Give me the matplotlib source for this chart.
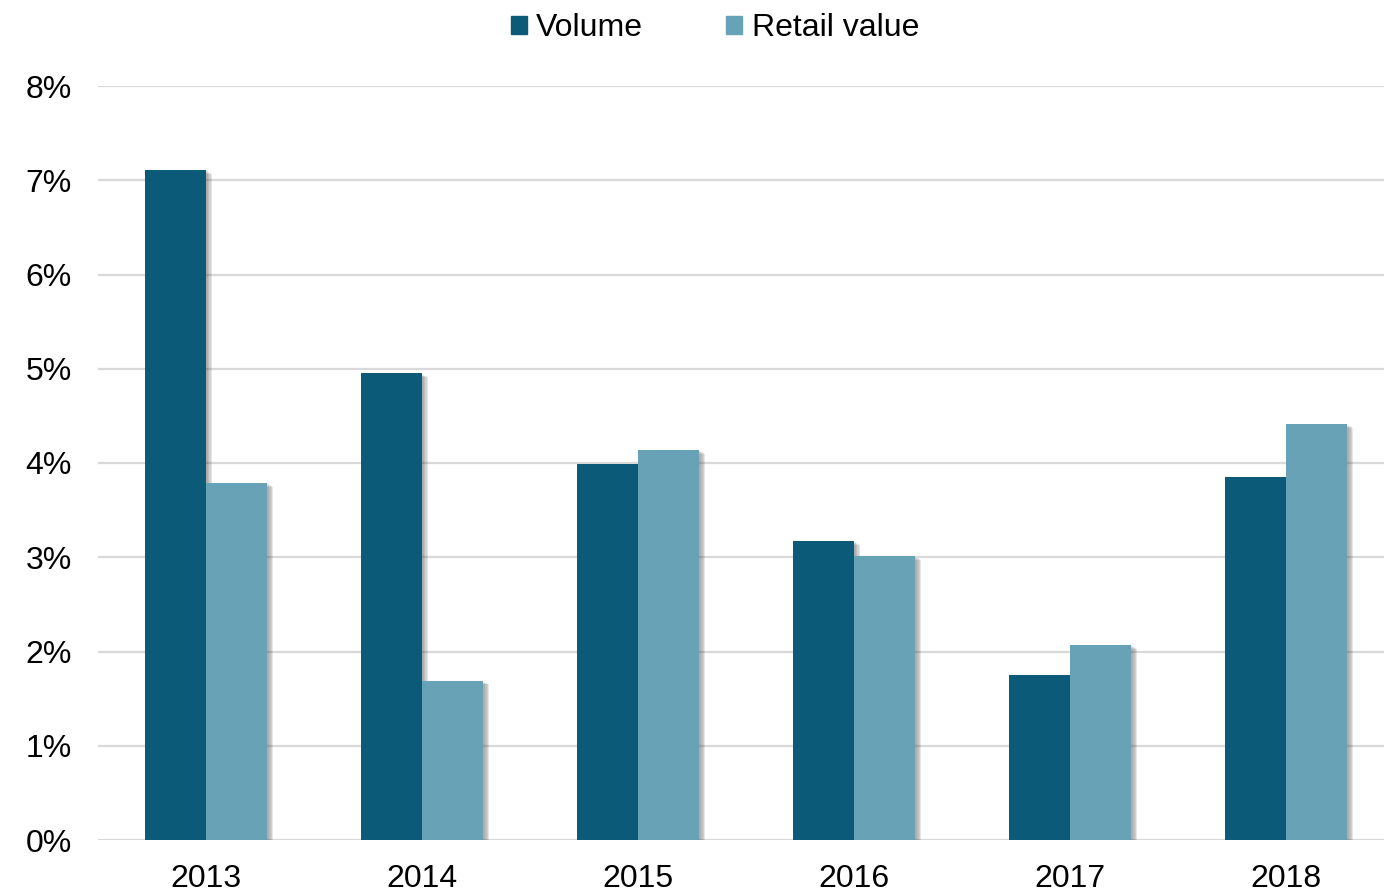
import numpy as np
import matplotlib.pyplot as plt
import matplotlib.patheffects as pe
from matplotlib.patches import Patch
from matplotlib.ticker import FuncFormatter

# Adatok
years = ["2013", "2014", "2015", "2016", "2017", "2018"]
volume = [7.11, 4.95, 3.99, 3.17, 1.75, 3.85]
retail_value = [3.79, 1.69, 4.14, 3.01, 2.07, 4.41]

c_vol = "#0A5A78"
c_ret = "#68A2B7"

plt.rcParams["font.family"] = ["Liberation Sans", "DejaVu Sans"]

fig = plt.figure(figsize=(13.84, 8.92), dpi=100)
ax = fig.add_axes([98 / 1384, (892 - 840) / 892, 1296 / 1384, (840 - 86) / 892])

x = np.arange(len(years))
w = 0.283

# elmosott árnyék a jobb oldalon
shadow = [pe.SimplePatchShadow(offset=(o, -o * 0.6), shadow_rgbFace="#444444", alpha=0.13)
          for o in (4.5, 3.5, 2.5, 1.5)] + [pe.Normal()]

b1 = ax.bar(x - w / 2, volume, w, color=c_vol, zorder=3)
b2 = ax.bar(x + w / 2, retail_value, w, color=c_ret, zorder=3)
for bar in list(b2) + list(b1):
    bar.set_path_effects(shadow)

ax.set_xlim(-0.5, 5.5)
ax.set_ylim(0, 8)
ax.set_yticks(range(0, 9))
ax.yaxis.set_major_formatter(FuncFormatter(lambda v, p: f"{v:.0f}%"))
ax.set_xticks(x)
ax.set_xticklabels(years)
ax.tick_params(length=0, labelsize=23, colors="black")
ax.tick_params(axis="y", pad=19)
ax.tick_params(axis="x", pad=17)
ax.grid(axis="y", color="#d9d9d9", linewidth=1.6, zorder=0)
for s in ax.spines.values():
    s.set_visible(False)

handles = [Patch(color=c_vol, label="Volume"), Patch(color=c_ret, label="Retail value")]
fig.legend(handles=handles, loc="center", bbox_to_anchor=(715 / 1384, 1 - 28 / 892),
           ncol=2, frameon=False, fontsize=23, handlelength=0.5, handleheight=0.5,
           handletextpad=0.3, columnspacing=2.6)

fig.savefig("out.png", dpi=100)
